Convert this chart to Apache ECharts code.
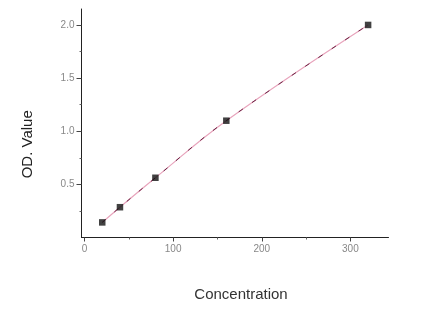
<!DOCTYPE html>
<html>
<head>
<meta charset="utf-8">
<script src="https://cdn.jsdelivr.net/npm/echarts@6/dist/echarts.min.js"></script>
<style>html,body{margin:0;padding:0;background:#fff}#c{width:425px;height:312px}</style>
</head>
<body>
<div id="c"></div>
<script>
var concentration = [20, 40, 80, 160, 320];
var odValue = [0.142, 0.285, 0.562, 1.099, 2.0];
var xTickValues = [0, 100, 200, 300];
var xMinorTicks = [50, 150, 250];
var yTickValues = [0.5, 1.0, 1.5, 2.0];
var yMinorTicks = [0.25, 0.75, 1.25, 1.75];
var xName = 'Concentration';
var yName = 'OD. Value';

var pts = concentration.map(function (x, i) { return [x, odValue[i]]; });
var chart = echarts.init(document.getElementById('c'));
var labelStyle = { fontFamily: 'Liberation Sans, Arial, sans-serif', fontSize: 10, color: '#888' };
var xr = { min: -3.4, max: 343 };
var yr = { min: 0, max: 2.15 };
chart.setOption({
  animation: false,
  backgroundColor: '#fff',
  grid: { left: 81.5, right: 36.5, top: 9, bottom: 74.5, containLabel: false },
  xAxis: [{
    type: 'value', min: xr.min, max: xr.max,
    name: xName, nameLocation: 'middle', nameGap: 50,
    nameTextStyle: { fontFamily: 'Liberation Sans, Arial, sans-serif', fontSize: 15, color: '#333', padding: [0, 0, 0, 12] },
    axisLine: { show: true, onZero: false, lineStyle: { color: '#222', width: 1 } },
    axisTick: { show: true, inside: false, length: 4, customValues: xTickValues, lineStyle: { color: '#444' } },
    axisLabel: Object.assign({ customValues: xTickValues, margin: 7 }, labelStyle),
    splitLine: { show: false }
  }, {
    type: 'value', min: xr.min, max: xr.max, position: 'bottom',
    axisLine: { show: false, onZero: false },
    axisTick: { show: true, length: 2, customValues: xMinorTicks, lineStyle: { color: '#666' } },
    axisLabel: { show: false },
    splitLine: { show: false }
  }],
  yAxis: [{
    type: 'value', min: yr.min, max: yr.max,
    name: yName, nameLocation: 'middle', nameGap: 46, nameRotate: 90,
    nameTextStyle: { fontFamily: 'Liberation Sans, Arial, sans-serif', fontSize: 15, color: '#222', padding: [0, 42, 0, 0] },
    axisLine: { show: true, onZero: false, lineStyle: { color: '#222', width: 1 } },
    axisTick: { show: true, length: 5, customValues: yTickValues, lineStyle: { color: '#444' } },
    axisLabel: Object.assign({ customValues: yTickValues, margin: 7, formatter: function (v) { return v.toFixed(1); } }, labelStyle),
    splitLine: { show: false }
  }, {
    type: 'value', min: yr.min, max: yr.max, position: 'left',
    axisLine: { show: false, onZero: false },
    axisTick: { show: true, length: 2, customValues: yMinorTicks, lineStyle: { color: '#666' } },
    axisLabel: { show: false },
    splitLine: { show: false }
  }],
  series: [{
    type: 'line', data: pts, smooth: 0.4, showSymbol: false,
    lineStyle: { color: '#e8a4bc', width: 1.2 }, z: 2
  }, {
    type: 'line', data: pts, smooth: 0.4, showSymbol: false,
    lineStyle: { color: '#6a2444', width: 1, type: [5, 11] }, z: 3
  }, {
    type: 'scatter', data: pts, symbol: 'rect', symbolSize: 6.5,
    itemStyle: { color: '#111' }, z: 4
  }]
});
</script>
</body>
</html>
